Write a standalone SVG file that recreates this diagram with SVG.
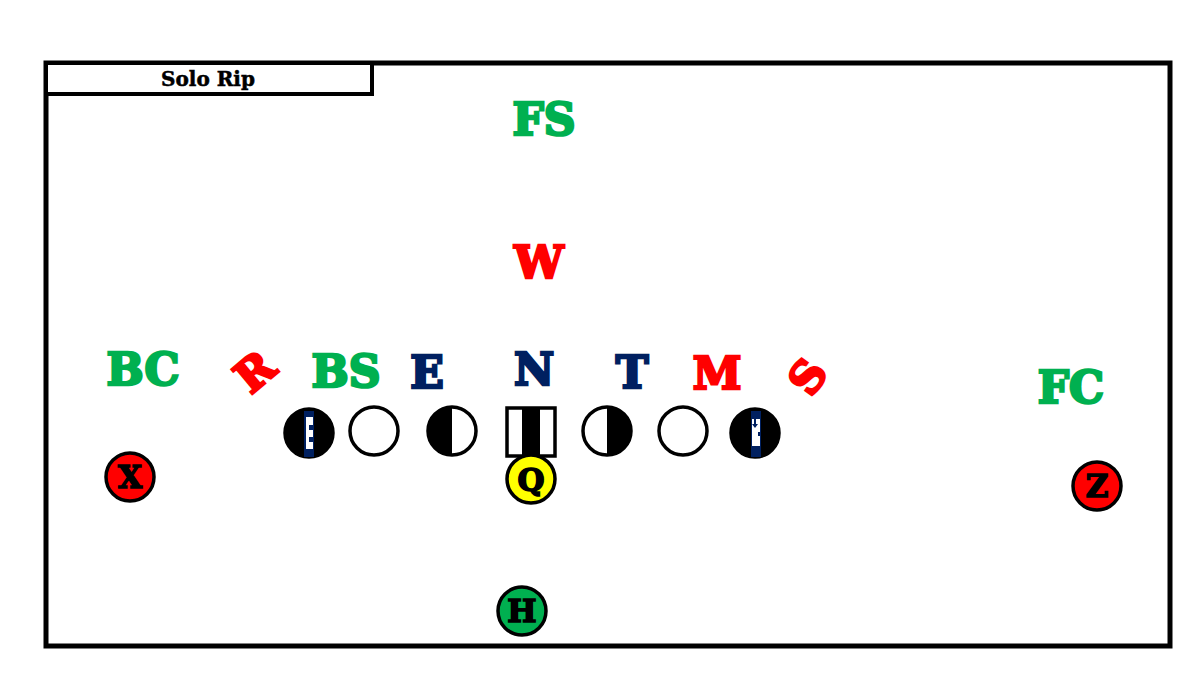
<svg xmlns="http://www.w3.org/2000/svg" width="1200" height="675" viewBox="0 0 1200 675">
<style>
.lbl{font-family:"DejaVu Serif","Liberation Serif",serif;font-weight:bold;font-size:44px;text-anchor:middle;stroke-width:2.6;stroke-linejoin:miter}
.g{fill:#00B050;stroke:#00B050}.r{fill:#FF0000;stroke:#FF0000}.b{fill:#002060;stroke:#002060}
.pl{stroke:#000;stroke-width:3.5}
.pt{font-family:"DejaVu Serif","Liberation Serif",serif;font-weight:bold;font-size:31px;text-anchor:middle;fill:#000;stroke:#000;stroke-width:1.6}
</style>
<rect x="0" y="0" width="1200" height="675" fill="#fff"/>
<g id="frame">
<rect x="46" y="63" width="1124" height="583" fill="none" stroke="#000" stroke-width="5"/>
<rect x="46" y="63" width="326" height="31" fill="#fff" stroke="#000" stroke-width="4"/>
<text x="208" y="86" font-family="DejaVu Serif, Liberation Serif, serif" font-weight="bold" font-size="20" text-anchor="middle" fill="#000" stroke="#000" stroke-width="0.5">Solo Rip</text>
</g>
<g id="connectors"></g>
<g id="FS"><text class="lbl g" x="544" y="135">FS</text></g>
<g id="W"><text class="lbl r" x="539" y="278">W</text></g>
<g id="BC"><text class="lbl g" x="143" y="385">BC</text></g>
<g id="R"><text class="lbl r" transform="translate(255,372) rotate(-40)" x="0" y="15">R</text></g>
<g id="BS"><text class="lbl g" x="346" y="387">BS</text></g>
<g id="E"><text class="lbl b" x="427" y="388">E</text></g>
<g id="N"><text class="lbl b" x="534" y="385">N</text></g>
<g id="T"><text class="lbl b" x="632" y="388">T</text></g>
<g id="M"><text class="lbl r" x="717" y="389">M</text></g>
<g id="S"><text class="lbl r" transform="translate(808,377) rotate(-55)" x="0" y="15">S</text></g>
<g id="FC"><text class="lbl g" x="1071" y="403">FC</text></g>
<g id="LT">
<circle cx="309" cy="433" r="24" fill="#000" class="pl"/>
<rect x="304" y="411" width="10" height="46" fill="#002060"/>
<path d="M306 417 H313 V425 H309 V430 H313 V437 H309 V442 H313 V449 H306 Z" fill="#fff"/>
</g>
<g id="LG"><circle cx="374" cy="431" r="24" fill="#fff" class="pl"/></g>
<g id="LC">
<circle cx="452" cy="431" r="24" fill="#fff" class="pl"/>
<path d="M452 407 A24 24 0 0 0 452 455 Z" fill="#000"/>
</g>
<g id="C">
<rect x="507" y="408" width="48" height="48" fill="#fff" class="pl"/>
<rect x="522" y="408" width="18" height="48" fill="#000"/>
</g>
<g id="RC">
<circle cx="607" cy="431" r="24" fill="#fff" class="pl"/>
<path d="M607 407 A24 24 0 0 1 607 455 Z" fill="#000"/>
</g>
<g id="RG"><circle cx="683" cy="431" r="24" fill="#fff" class="pl"/></g>
<g id="RT">
<circle cx="755" cy="433" r="24" fill="#000" class="pl"/>
<rect x="751" y="411" width="10" height="46" fill="#002060"/>
<rect x="752" y="419" width="8" height="27" fill="#fff"/>
<path d="M754 419 V424 H752 L755 428 L758 424 H756 V419 Z" fill="#002060"/>
<rect x="758" y="432" width="2" height="4" fill="#002060"/>
</g>
<g id="Q">
<circle cx="531" cy="479" r="24" fill="#FFFF00" class="pl"/>
<text class="pt" x="531" y="491">Q</text>
</g>
<g id="X">
<circle cx="130" cy="477" r="24" fill="#FF0000" class="pl"/>
<text class="pt" x="130" y="488">X</text>
</g>
<g id="Z">
<circle cx="1097" cy="486" r="24" fill="#FF0000" class="pl"/>
<text class="pt" x="1097" y="497">Z</text>
</g>
<g id="H">
<circle cx="522" cy="611" r="24" fill="#00B050" class="pl"/>
<text class="pt" x="522" y="622">H</text>
</g>
</svg>
